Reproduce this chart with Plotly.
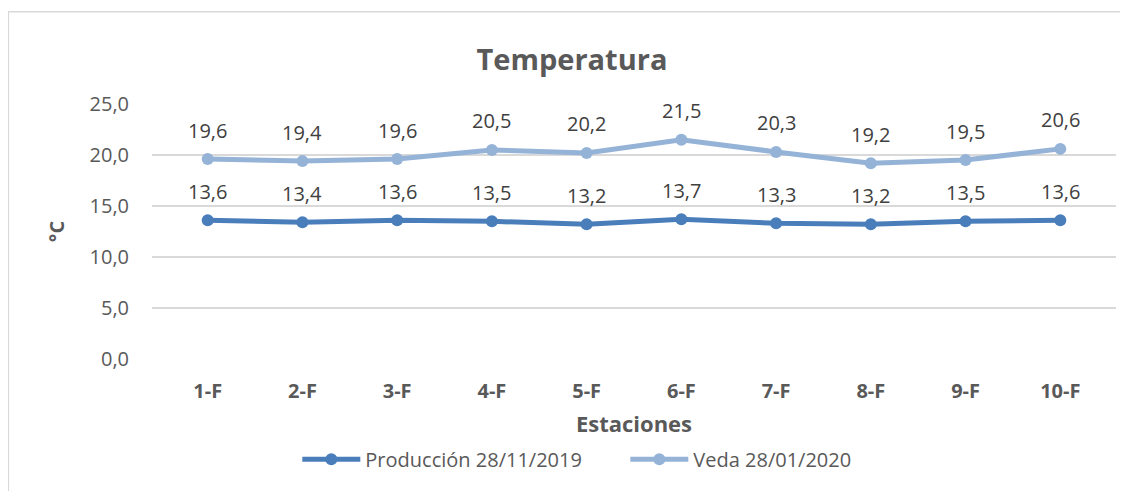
import plotly.graph_objects as go

# Datos
estaciones = ['1-F', '2-F', '3-F', '4-F', '5-F', '6-F', '7-F', '8-F', '9-F', '10-F']
produccion = [13.6, 13.4, 13.6, 13.5, 13.2, 13.7, 13.3, 13.2, 13.5, 13.6]
veda = [19.6, 19.4, 19.6, 20.5, 20.2, 21.5, 20.3, 19.2, 19.5, 20.6]
y_ticks = [0, 5, 10, 15, 20, 25]

FONT = 'Open Sans'
GRAY = '#595959'


def fmt(v):
    return f'{v:.1f}'.replace('.', ',')


fig = go.Figure()

series = [
    ('Producción 28/11/2019', produccion, '#4A7EBB'),
    ('Veda 28/01/2020', veda, '#95B3D7'),
]
for name, vals, color in series:
    fig.add_trace(go.Scatter(
        x=estaciones,
        y=vals,
        mode='lines+markers',
        name=name,
        line=dict(color=color, width=5),
        marker=dict(color=color, size=12),
        cliponaxis=False,
    ))
    # etiquetas de datos sobre cada punto
    for est, v in zip(estaciones, vals):
        fig.add_annotation(x=est, y=v, text=fmt(v), showarrow=False,
                           yshift=29, yanchor='middle',
                           font=dict(family=FONT, size=20, color='#404040'))

# marco del grafico
fig.add_shape(type='rect', xref='paper', yref='paper',
              x0=-0.149, x1=1.05, y0=-0.7, y1=1.362,
              line=dict(color='#D9D9D9', width=1.5), fillcolor='rgba(0,0,0,0)')

fig.update_layout(
    width=1120,
    height=483,
    margin=dict(l=144, r=12, t=96, b=130),
    paper_bgcolor='white',
    plot_bgcolor='white',
    font=dict(family=FONT, color=GRAY),
    title=dict(text='<b>Temperatura</b>', x=564 / 1120, xanchor='center',
               y=1 - 52 / 483, yanchor='middle',
               font=dict(family=FONT, size=29, color=GRAY)),
    showlegend=True,
    legend=dict(orientation='h', x=0.491, xanchor='center', y=-0.393, yanchor='middle',
                font=dict(family=FONT, size=20, color=GRAY),
                itemwidth=58, tracegroupgap=0,
                entrywidth=255, entrywidthmode='pixels'),
)

fig.update_xaxes(
    type='category',
    showgrid=False,
    showline=False,
    ticks='',
    ticklabelstandoff=18,
    tickfont=dict(family=FONT, size=20, color=GRAY),
    tickprefix='<b>', ticksuffix='</b>',
    title=dict(text='<b>Estaciones</b>', font=dict(family=FONT, size=22, color=GRAY), standoff=13),
)

fig.update_yaxes(
    range=[0, 25],
    tickvals=y_ticks,
    ticktext=[fmt(v) for v in y_ticks],
    showgrid=True,
    gridcolor='#D9D9D9',
    gridwidth=1.5,
    zeroline=False,
    showline=False,
    ticks='',
    ticklabelstandoff=22,
    tickfont=dict(family=FONT, size=20, color=GRAY),
    title=dict(text='<b>°C</b>', font=dict(family=FONT, size=20, color=GRAY), standoff=19),
)

fig.write_html('out.html')
